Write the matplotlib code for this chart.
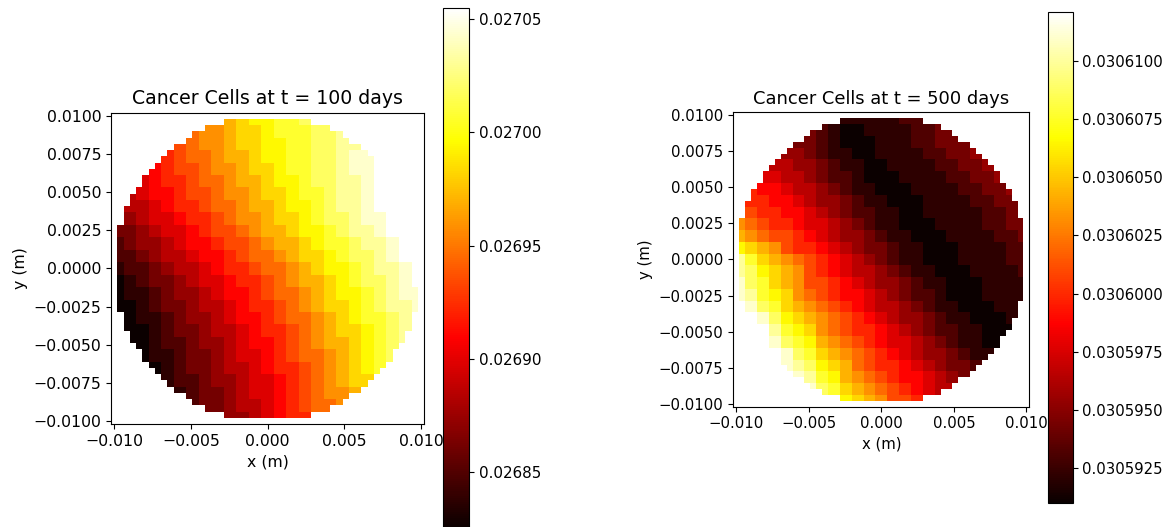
import numpy as np
import matplotlib
matplotlib.use('Agg')
import matplotlib.pyplot as plt
from matplotlib.ticker import FuncFormatter

#Malla de la simulacion: 50x50 puntos, disco de radio R
R = 0.01
n = 50
x = np.linspace(-R, R, n)
y = np.linspace(-R, R, n)

#Niveles, bloques de 2x2 celdas, fila de arriba primero
#0..9 a..j = nivel 0..19 entre vmin y vmax
niveles_100 = [
    "cdeeffg",
    "abbcddefffggh",
    "9abbcddeeffgghh",
    "89aabccdeeffgghii",
    "7899abbcddeffgghiij",
    "67889aabccdeefgghhijj",
    "5677899abbcddeffghhijjj",
    "5567889aabccdeefghhijjj",
    "45667889abbcddefgghiijj",
    "3345667899abccdeefghhijjj",
    "23445677899abccdeffghhijj",
    "22345567789aabcddefgghijj",
    "122345567889aabcdeefghhij",
    "0123345667889abccdefgghij",
    "0112344567789aabcdeefghii",
    "00123345567889abcddefghhi",
    "0112344567789aabcdeffgh",
    "00123345567889abcddefgh",
    "00122344567789abccdefgh",
    "0112334566789aabcdefg",
    "0123345567889abcdef",
    "122344566789abcdd",
    "12334566789abbc",
    "2334556789aab",
    "4456788",
]

niveles_500 = [
    "1111122",
    "3210011112233",
    "332100011122333",
    "44321100111122334",
    "5544321100111122334",
    "665543221000111122334",
    "87765543211000111122334",
    "88776544321100011112233",
    "98877654322110011111223",
    "ba98876654321100011112233",
    "cba9987654432110001111223",
    "edcb988765433211000111122",
    "hfdcba9876543211000111122",
    "hgedcb9876554321100011112",
    "igfdcb9987654432110001111",
    "ihfedba987765432210001111",
    "igfdcba9876554321100011",
    "jigedcba987654432110001",
    "jjhfedba988765432211000",
    "jigfecba9876654321100",
    "jigfdcba98765443211",
    "ihgedca9887654332",
    "ihfecba98776543",
    "igfdcba987655",
    "edcb998",
]

#Rango de la barra de color
vmin_100, vmax_100 = 0.0268252, 0.0270549
vmin_500, vmax_500 = 0.0305910, 0.0306121
ticks_100 = [0.02685, 0.02690, 0.02695, 0.02700, 0.02705]
ticks_500 = [0.0305925, 0.0305950, 0.0305975, 0.0306000,
             0.0306025, 0.0306050, 0.0306075, 0.0306100]

ticks_x = [-0.010, -0.005, 0.000, 0.005, 0.010]
ticks_y = [-0.0100, -0.0075, -0.0050, -0.0025, 0.0000, 0.0025, 0.0050, 0.0075, 0.0100]


def formato(dec):
    #signo menos tipografico como en matplotlib
    return FuncFormatter(lambda v, p: f'{v:.{dec}f}'.replace('-', '\u2212'))


def campo(filas, vmin, vmax):
    k = np.array([[np.nan if c == '.' else int(c, 36) for c in f.center(25, '.')]
                  for f in filas], dtype=float)
    k = k[::-1]
    k = np.repeat(np.repeat(k, 2, axis=0), 2, axis=1)
    X, Y = np.meshgrid(x, y)
    k[X**2 + Y**2 > R**2] = np.nan
    return np.ma.masked_invalid(vmin + k / 19 * (vmax - vmin))


fig = plt.figure(figsize=(11.72, 5.27), dpi=100)

paneles = [
    (niveles_100, vmin_100, vmax_100, ticks_100, 5, 100,
     [0.0947, 0.1954, 0.2671, 0.5907], [0.3783, -0.002, 0.0222, 0.9868], 11.3, 10.9),
    (niveles_500, vmin_500, vmax_500, ticks_500, 7, 500,
     [0.6257, 0.2283, 0.2526, 0.5586], [0.8939, 0.0455, 0.0213, 0.9317], 10.7, 10.7),
]

for filas, vmin, vmax, ticks, dec, dias, pos, pos_cb, fs, fs_cb in paneles:
    ax = fig.add_axes(pos)
    C = campo(filas, vmin, vmax)
    m = ax.pcolormesh(x, y, C, cmap='hot', vmin=vmin, vmax=vmax, shading='nearest')
    ax.set_xticks(ticks_x)
    ax.set_yticks(ticks_y)
    ax.xaxis.set_major_formatter(formato(3))
    ax.yaxis.set_major_formatter(formato(4))
    ax.tick_params(labelsize=fs)
    ax.set_xlabel('x (m)', fontsize=fs)
    ax.set_ylabel('y (m)', fontsize=fs)
    ax.set_title(f'Cancer Cells at t = {dias} days', fontsize=fs * 1.2)

    cax = fig.add_axes(pos_cb)
    cb = fig.colorbar(m, cax=cax)
    cb.set_ticks(ticks)
    cb.ax.yaxis.set_major_formatter(formato(dec))
    cb.ax.tick_params(labelsize=fs_cb)

fig.savefig('out.png', dpi=100)
